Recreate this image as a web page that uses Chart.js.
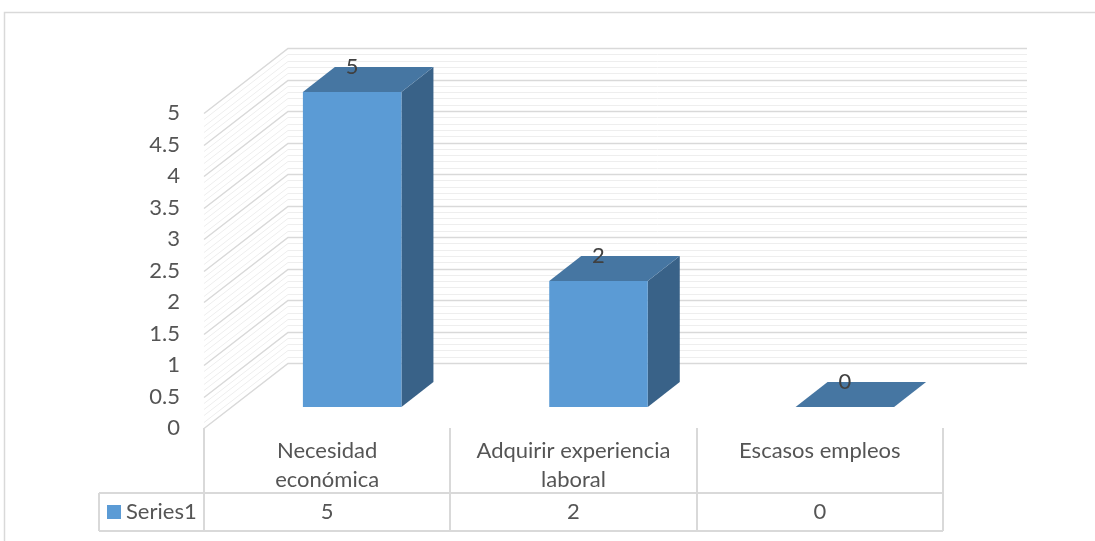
<!DOCTYPE html>
<html>
<head>
<meta charset="utf-8">
<script src="https://cdn.jsdelivr.net/npm/chart.js@4.4.1/dist/chart.umd.min.js"></script>
<style>
  html, body { margin: 0; padding: 0; background: #fff; }
  canvas { display: block; }
</style>
</head>
<body>
<canvas id="chart3d" width="1095" height="541"></canvas>
<script>
var categories = [['Necesidad', 'económica'], ['Adquirir experiencia', 'laboral'], 'Escasos empleos'];
var seriesName = 'Series1';
var seriesValues = [5, 2, 0];
var yMin = 0, yMax = 5, yStep = 0.5, yMinorStep = 0.1;

var FONT = 'Lato';
var FONT_SIZE = 22;
var TEXT = '#555555';
var GRID = '#d9d9d9';
var GRID_MINOR = '#eeeeee';
var FRONT = '#5b9bd5', TOP = '#4676a2', SIDE = '#396288';

// 3d offsets in px (walls, bar plane, bar depth)
var wallDx = 84, wallDy = -65;
var barOffX = 25, barOffY = -21;
var barDx = 32, barDy = -25;

Chart.defaults.font.family = FONT;

var wallsPlugin = {
    id: 'walls',
    beforeDatasetsDraw: function (chart) {
        var ctx = chart.ctx, area = chart.chartArea, y = chart.scales.y;
        var n = Math.round((yMax - yMin) / yMinorStep);
        ctx.save();
        [false, true].forEach(function (major) {
            for (var i = 0; i <= n; i++) {
                var v = yMin + i * yMinorStep;
                var isMajor = Math.abs(v / yStep - Math.round(v / yStep)) < 1e-6;
                if (isMajor !== major) continue;
                var py = Math.round(y.getPixelForValue(v)) + 0.5;
                ctx.strokeStyle = major ? GRID : GRID_MINOR;
                ctx.lineWidth = major ? 1.5 : 1;
                ctx.beginPath();
                ctx.moveTo(area.left, py);
                ctx.lineTo(area.left + wallDx, py + wallDy);
                ctx.lineTo(area.right + wallDx, py + wallDy);
                ctx.stroke();
            }
        });
        ctx.restore();
    }
};

var bars3dPlugin = {
    id: 'bars3d',
    afterDatasetsDraw: function (chart) {
        var ctx = chart.ctx;
        var meta = chart.getDatasetMeta(0);
        ctx.save();
        meta.data.forEach(function (bar, i) {
            var l = bar.x - bar.width / 2 + barOffX;
            var r = bar.x + bar.width / 2 + barOffX;
            var t = bar.y + barOffY;
            var b = bar.base + barOffY;
            // side face
            ctx.fillStyle = SIDE;
            ctx.beginPath();
            ctx.moveTo(r, t);
            ctx.lineTo(r + barDx, t + barDy);
            ctx.lineTo(r + barDx, b + barDy);
            ctx.lineTo(r, b);
            ctx.closePath();
            ctx.fill();
            // top face
            ctx.fillStyle = TOP;
            ctx.beginPath();
            ctx.moveTo(l, t);
            ctx.lineTo(l + barDx, t + barDy);
            ctx.lineTo(r + barDx, t + barDy);
            ctx.lineTo(r, t);
            ctx.closePath();
            ctx.fill();
            // front face
            if (b - t > 0.5) {
                ctx.fillStyle = FRONT;
                ctx.fillRect(l, t, r - l, b - t);
            }
            // value label
            ctx.fillStyle = '#404040';
            ctx.font = FONT_SIZE + 'px ' + FONT;
            ctx.textAlign = 'center';
            ctx.textBaseline = 'middle';
            ctx.fillText(String(seriesValues[i]), (l + r) / 2, t + barDy);
        });
        ctx.restore();
    }
};

var tablePlugin = {
    id: 'dataTable',
    afterDraw: function (chart) {
        var ctx = chart.ctx, area = chart.chartArea, x = chart.scales.x;
        var rowTop = area.bottom + 65, rowBottom = area.bottom + 103, legendLeft = 99;
        var colW = (area.right - area.left) / categories.length;
        ctx.save();
        ctx.strokeStyle = GRID;
        ctx.lineWidth = 2;
        ctx.beginPath();
        for (var i = 0; i <= categories.length; i++) {
            var cx = Math.round(area.left + i * colW);
            ctx.moveTo(cx, area.bottom);
            ctx.lineTo(cx, rowBottom);
        }
        ctx.moveTo(legendLeft, rowTop);
        ctx.lineTo(area.right, rowTop);
        ctx.moveTo(legendLeft, rowBottom);
        ctx.lineTo(area.right, rowBottom);
        ctx.moveTo(legendLeft, rowTop);
        ctx.lineTo(legendLeft, rowBottom);
        ctx.stroke();

        var midY = (rowTop + rowBottom) / 2;
        ctx.fillStyle = FRONT;
        ctx.fillRect(legendLeft + 8, midY - 7, 14, 14);
        ctx.font = FONT_SIZE + 'px ' + FONT;
        ctx.fillStyle = TEXT;
        ctx.textBaseline = 'middle';
        ctx.textAlign = 'left';
        ctx.fillText(seriesName, legendLeft + 27, midY);
        ctx.textAlign = 'center';
        seriesValues.forEach(function (v, i) {
            ctx.fillText(String(v), x.getPixelForValue(i), midY);
        });

        // outer chart border
        ctx.lineWidth = 1.5;
        ctx.strokeRect(4.5, 12.5, 1200, 600);
        ctx.restore();
    }
};

new Chart(document.getElementById('chart3d'), {
    type: 'bar',
    data: {
        labels: categories,
        datasets: [{
            label: seriesName,
            data: seriesValues,
            backgroundColor: 'rgba(0,0,0,0)',
            borderWidth: 0,
            categoryPercentage: 1,
            barPercentage: 0.4
        }]
    },
    options: {
        responsive: false,
        animation: false,
        events: [],
        layout: { padding: { top: 113, right: 152, left: 0, bottom: 0 } },
        plugins: { legend: { display: false }, tooltip: { enabled: false } },
        scales: {
            x: {
                grid: { display: false },
                border: { display: false },
                ticks: {
                    color: TEXT,
                    font: { size: FONT_SIZE, lineHeight: 1.3 },
                    padding: 1,
                    maxRotation: 0,
                    autoSkip: false
                },
                afterFit: function (s) { s.height = 113; }
            },
            y: {
                min: yMin,
                max: yMax,
                grid: { display: false },
                border: { display: false },
                ticks: {
                    stepSize: yStep,
                    color: TEXT,
                    font: { size: FONT_SIZE },
                    padding: 16,
                    callback: function (v) { return String(Math.round(v * 10) / 10); }
                },
                afterFit: function (s) { s.width = 204; }
            }
        }
    },
    plugins: [wallsPlugin, bars3dPlugin, tablePlugin]
});
</script>
</body>
</html>
